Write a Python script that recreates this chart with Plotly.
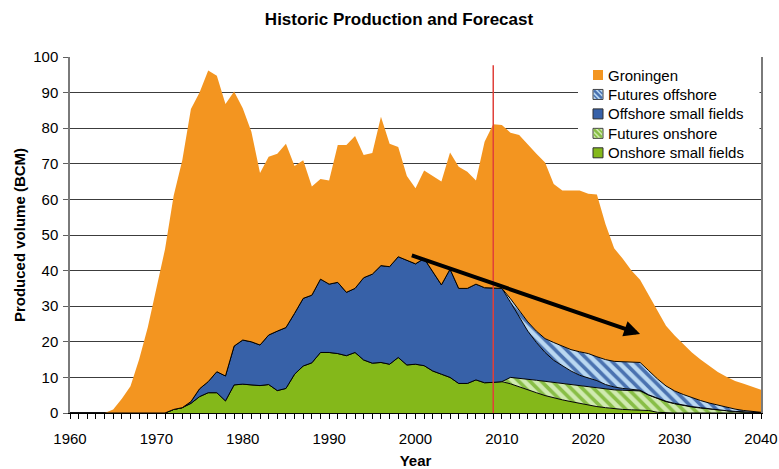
import plotly.graph_objects as go

years = list(range(1960, 2041))

groningen = [
    0, 0, 0, 0, 0, 1.0, 4.0, 7.5, 15.0, 24.0,
    35.3, 46.0, 60.0, 69.5, 82.2, 83.2, 87.4, 83.1, 76.4, 71.5,
    65.1, 59.0, 48.3, 50.1, 49.8, 51.6, 41.4, 38.8, 30.5, 28.1,
    29.1, 38.6, 41.4, 42.8, 34.5, 34.0, 41.8, 34.5, 30.8, 23.6,
    21.2, 24.7, 26.9, 29.0, 32.8, 34.2, 32.8, 29.1, 41.0, 46.1,
    45.9, 46.6, 49.3, 49.7, 49.8, 49.5, 44.5, 43.8, 44.7, 45.3,
    44.9, 45.6, 38.0, 31.8, 28.9, 25.7, 23.2, 21.1, 19.1, 16.9,
    15.6, 14.1, 12.7, 11.5, 10.5, 9.3, 8.6, 7.9, 7.5, 6.9,
    6.3]

onshore = [
    0, 0, 0, 0, 0, 0, 0, 0, 0, 0,
    0, 0, 1.0, 1.5, 2.7, 4.6, 5.7, 5.7, 3.4, 7.9,
    8.1, 8.0, 7.7, 8.0, 6.3, 6.9, 10.9, 13.2, 14.1, 17.0,
    17.0, 16.7, 16.1, 17.0, 14.9, 14.0, 14.2, 13.7, 15.6, 13.5,
    13.7, 13.3, 11.8, 10.9, 10.0, 8.3, 8.3, 9.3, 8.5, 8.6,
    8.8, 8.2, 7.3, 6.5, 5.7, 4.9, 4.2, 3.7, 3.2, 2.7,
    2.2, 1.8, 1.5, 1.2, 1.0, 0.9, 0.8, 0.7, 0.2, 0,
    0, 0, 0, 0, 0, 0, 0, 0, 0, 0,
    0]

offshore = [
    0, 0, 0, 0, 0, 0, 0, 0, 0, 0,
    0, 0, 0, 0, 0.5, 2.2, 3.1, 5.9, 7.0, 10.9,
    12.4, 12.0, 11.4, 13.9, 16.7, 17.1, 17.1, 19.0, 19.0, 20.6,
    19.2, 20.0, 17.8, 18.0, 23.1, 25.0, 27.2, 27.4, 28.3, 29.5,
    28.2, 30.1, 27.9, 25.1, 30.4, 26.7, 26.7, 26.9, 26.7, 26.4,
    26.2, 21.1, 17.2, 13.5, 10.6, 8.1, 6.2, 5.0, 3.8, 3.0,
    2.5, 2.1, 1.3, 0.8, 0.5, 0.3, 0.2, 0.1, 0.1, 0.1,
    0.1, 0.1, 0.1, 0.1, 0.05, 0.05, 0.05, 0.05, 0.05, 0.05,
    0.05]

futures_onshore = [0] * 50 + [
    0, 1.8, 2.5, 3.0, 3.5, 4.0, 4.4, 4.6, 4.8, 4.9,
    5.1, 5.2, 5.2, 5.3, 5.4, 5.4, 5.4, 4.3, 3.8, 3.2,
    2.6, 2.1, 1.7, 1.4, 1.1, 0.8, 0.6, 0.4, 0.3, 0.15,
    0.05]

futures_offshore = [0] * 50 + [
    0, 1.0, 1.8, 2.6, 3.2, 3.9, 5.0, 5.4, 6.0, 6.6,
    6.9, 6.7, 7.0, 7.2, 7.5, 7.7, 7.8, 6.8, 5.5, 4.3,
    3.5, 3.0, 2.5, 2.0, 1.65, 1.35, 0.95, 0.65, 0.35, 0.2,
    0.1]

legend_names = ["Groningen", "Futures offshore", "Offshore small fields",
                "Futures onshore", "Onshore small fields"]

forecast_year = 2009
arrow_start = (1999.4, 44.4)
arrow_end = (2026.0, 22.2)

C_GRON = "#F39520"
C_OFF = "#3761A8"
C_ON = "#84B81A"
OFF_FG, OFF_BG = "#4A72B0", "#BAD8F1"
ON_FG, ON_BG = "#88BE46", "#D0EAB0"
FUT_OFF = dict(shape="\\", fgcolor=OFF_FG, bgcolor=OFF_BG, size=8, solidity=0.45, fillmode="replace")
FUT_ON = dict(shape="\\", fgcolor=ON_FG, bgcolor=ON_BG, size=8, solidity=0.45, fillmode="replace")

FONT = "Liberation Sans, Arial, sans-serif"
W, H = 779, 469
ML, MR, MT, MB = 70, 18, 57, 56
PW, PH = W - ML - MR, H - MT - MB


def px(xp):
    return (xp - ML) / PW


def py(yp):
    return (H - MB - yp) / PH


fig = go.Figure()

edge = dict(color="black", width=1)
fig.add_trace(go.Scatter(x=years, y=onshore, stackgroup="s", mode="lines", line=edge,
                         fillcolor=C_ON, showlegend=False, name="Onshore small fields"))
fig.add_trace(go.Scatter(x=years, y=futures_onshore, stackgroup="s", mode="lines", line=edge,
                         fillpattern=FUT_ON, showlegend=False, name="Futures onshore"))
fig.add_trace(go.Scatter(x=years, y=offshore, stackgroup="s", mode="lines", line=edge,
                         fillcolor=C_OFF, showlegend=False, name="Offshore small fields"))
fig.add_trace(go.Scatter(x=years, y=futures_offshore, stackgroup="s", mode="lines", line=edge,
                         fillpattern=FUT_OFF, showlegend=False, name="Futures offshore"))
fig.add_trace(go.Scatter(x=years, y=groningen, stackgroup="s", mode="lines",
                         line=dict(color=C_GRON, width=0), fillcolor=C_GRON,
                         showlegend=False, name="Groningen"))

fig.add_shape(type="line", xref="x", yref="y", x0=forecast_year, x1=forecast_year,
              y0=0, y1=97.7, line=dict(color="#E0403A", width=1.5), layer="above")

fig.add_annotation(x=arrow_end[0], y=arrow_end[1], ax=arrow_start[0], ay=arrow_start[1],
                   xref="x", yref="y", axref="x", ayref="y", text="", showarrow=True,
                   arrowhead=2, arrowsize=0.8, arrowwidth=4, arrowcolor="black", standoff=0)

# legend (drawn as shapes + text)
fig.add_shape(type="rect", xref="paper", yref="paper", x0=px(578), x1=px(759.5),
              y0=py(162), y1=py(58.5), fillcolor="white", line=dict(width=0), layer="above")
legend_styles = [
    (C_GRON, None, None),
    (OFF_BG, OFF_FG, "#404040"),
    (C_OFF, None, "#303030"),
    (ON_BG, ON_FG, "#404040"),
    (C_ON, None, "#303030"),
]
for i, (name, (fill, stripe, border)) in enumerate(zip(legend_names, legend_styles)):
    cy = 75 + i * 19.45
    x0, x1, y0, y1 = 593, 603, cy - 5, cy + 5
    fig.add_shape(type="rect", xref="paper", yref="paper", x0=px(x0), x1=px(x1),
                  y0=py(y1), y1=py(y0), fillcolor=fill,
                  line=dict(width=0 if border is None else 1, color=border or fill), layer="above")
    if stripe:
        fig.add_shape(type="line", xref="paper", yref="paper", x0=px(x0 + 1), x1=px(x1 - 1),
                      y0=py(y0 + 1), y1=py(y1 - 1), line=dict(color=stripe, width=2.5), layer="above")
        fig.add_shape(type="line", xref="paper", yref="paper", x0=px(x0 + 5.5), x1=px(x1 - 0.5),
                      y0=py(y0 + 0.5), y1=py(y1 - 5.5), line=dict(color=stripe, width=1.5), layer="above")
        fig.add_shape(type="line", xref="paper", yref="paper", x0=px(x0 + 0.5), x1=px(x1 - 5.5),
                      y0=py(y0 + 5.5), y1=py(y1 - 0.5), line=dict(color=stripe, width=1.5), layer="above")
    fig.add_annotation(x=px(605.5), y=py(cy), xref="paper", yref="paper", text=name,
                       showarrow=False, xanchor="left", yanchor="middle",
                       font=dict(size=15, family=FONT, color="black"))

fig.update_layout(
    width=W, height=H,
    margin=dict(l=ML, r=MR, t=MT, b=MB, autoexpand=False),
    paper_bgcolor="white", plot_bgcolor="white",
    font=dict(family=FONT, size=15, color="black"),
    title=dict(text="<b>Historic Production and Forecast</b>", x=399/W, xanchor="center",
               y=1 - 19/H, yanchor="middle", font=dict(size=17, family=FONT, color="black")),
    showlegend=False,
    xaxis=dict(range=[1960, 2040], dtick=10, tick0=1960, ticks="outside", ticklen=5,
               tickcolor="black", showline=True, linecolor="black", linewidth=1,
               showgrid=False, zeroline=False, ticklabelstandoff=7, automargin=False,
               minor=dict(dtick=1, ticks="outside", ticklen=5, tickcolor="black", showgrid=False),
               title=dict(text="<b>Year</b>", font=dict(size=15), standoff=11)),
    yaxis=dict(range=[0, 100], dtick=10, ticks="outside", ticklen=5, tickcolor="#606060",
               showline=True, linecolor="#7a7a7a", linewidth=1.5, mirror=True,
               showgrid=True, gridcolor="#3c3c3c", gridwidth=1, zeroline=False,
               ticklabelstandoff=2, automargin=False,
               title=dict(text="<b>Produced volume (BCM)</b>", font=dict(size=15), standoff=4)),
)

fig.write_html("out.html", config={"displayModeBar": False},
               post_script="document.body.style.margin='0';document.body.style.padding='0';")
